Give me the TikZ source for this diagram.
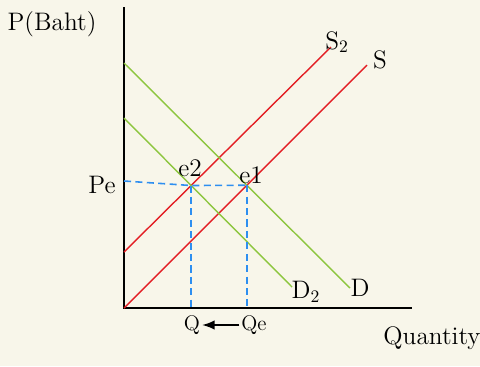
\documentclass[tikz,border=0pt]{standalone}
\usepackage{tikz}
\usetikzlibrary{arrows.meta,intersections}
\definecolor{cream}{HTML}{F8F6EA}
\definecolor{supred}{HTML}{E31E24}
\definecolor{demgreen}{HTML}{8DC63F}
\definecolor{dashblue}{HTML}{2E8FF0}

\begin{document}
\begin{tikzpicture}[x=0.02cm,y=-0.02cm,>=Latex,
 ax/.style={draw=black,line width=1.1pt},
 sup/.style={draw=supred,line width=.8pt},
 dem/.style={draw=demgreen,line width=.8pt},
 gd/.style={draw=dashblue,line width=.9pt,dash pattern=on 4pt off 2.5pt},
 lb/.style={font=\Large,inner sep=1pt}]
\fill[cream] (0,0) rectangle (480,366);
\useasboundingbox (0,0) rectangle (480,366);
\coordinate (o) at (124,308);\coordinate (ytop) at (124,7);\coordinate (xend) at (412,308);
\coordinate (s0) at (124,308);\coordinate (s1) at (367,65);
\coordinate (t0) at (124,252);\coordinate (t1) at (331,47);
\coordinate (d0) at (124,63);\coordinate (d1) at (350,288);
\coordinate (c0) at (124,118);\coordinate (c1) at (292,287);
\draw[ax] (ytop)--(o)--(xend);
\draw[sup,name path=S] (s0)--(s1);\draw[sup,name path=S2] (t0)--(t1);
\draw[dem,name path=D] (d0)--(d1);\draw[dem,name path=D2] (c0)--(c1);
\path[name intersections={of=S and D,by=e1}];
\path[name intersections={of=S2 and D2,by=e2}];
\coordinate (pe) at (124,181);
\draw[gd] (pe)--(e2)--(e1);\draw[gd] (e2)--(e2|-o);\draw[gd] (e1)--(e1|-o);
\node[lb] (py) at (52,24) {P(Baht)};
\node[lb] (pel) at (102,185) {Pe};
\node[lb] (e2l) at (190,168) {e2};
\node[lb] (e1l) at (251,175) {e1};
\node[lb] (sl) at (380,60) {S};
\node[lb] (s2l) at (337,42) {S$_2$};
\node[lb] (dl) at (360,288) {D};
\node[lb] (d2l) at (306,292) {D$_2$};
\node[font=\large,inner sep=1pt] (q) at (192,325) {Q};
\node[font=\large,inner sep=1pt] (qe) at (254,325) {Qe};
\node[font=\Large,inner sep=1pt] (qty) at (432,338) {Quantity};
\draw[->,line width=.9pt] (qe.west)--(q.east);
\end{tikzpicture}
\end{document}
